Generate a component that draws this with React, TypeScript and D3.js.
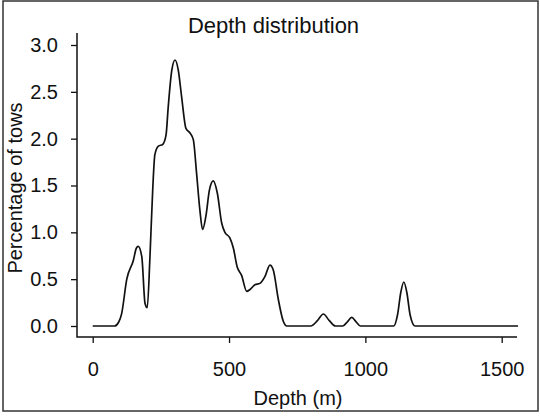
import React, { useEffect, useRef } from 'react'
import * as d3 from 'd3'

// depth (m) and percentage of tows
const depths = [0, 80, 95, 106, 125, 149, 160, 167, 180, 192, 200, 210, 220, 228, 241, 257, 269, 277, 290, 302, 314, 326, 342, 357, 369, 381, 393, 403, 415, 428, 442, 457, 473, 485, 503, 516, 530, 546, 565, 577, 595, 613, 632, 650, 662, 681, 699, 712, 800, 825, 846, 867, 890, 917, 934, 950, 966, 982, 1104, 1118, 1130, 1141, 1152, 1164, 1182, 1560]
const percents = [0, 0, 0.04, 0.13, 0.5, 0.7, 0.83, 0.85, 0.74, 0.24, 0.195, 0.74, 1.45, 1.83, 1.92, 1.94, 2.04, 2.34, 2.73, 2.84, 2.73, 2.45, 2.11, 2.06, 1.99, 1.63, 1.24, 1.03, 1.17, 1.45, 1.55, 1.42, 1.1, 1.0, 0.94, 0.83, 0.63, 0.54, 0.37, 0.39, 0.44, 0.455, 0.53, 0.65, 0.6, 0.28, 0.05, 0, 0, 0.06, 0.128, 0.06, 0, 0, 0.045, 0.093, 0.045, 0, 0, 0.12, 0.36, 0.47, 0.36, 0.12, 0, 0]
const xTicks = [0, 500, 1000, 1500]
const yTicks = [0, 0.5, 1, 1.5, 2, 2.5, 3]

const font = 'Liberation Sans, Arial, Helvetica, sans-serif'

export default function App() {
  const xAxisRef = useRef<SVGGElement>(null)
  const yAxisRef = useRef<SVGGElement>(null)

  const frame = { left: 77, right: 517, top: 33, bottom: 337 }
  const x = d3.scaleLinear().domain([0, 1500]).range([92.7, 501.7])
  const y = d3.scaleLinear().domain([0, 3]).range([326, 45])

  const points = depths.map((d, i) => ({ d, v: percents[i] }))
  const line = d3.line<{ d: number; v: number }>()
    .x(p => x(p.d))
    .y(p => y(p.v))
    .curve(d3.curveMonotoneX)

  useEffect(() => {
    const xAxis = d3.axisBottom(x).tickValues(xTicks).tickSize(6).tickPadding(19).tickFormat(d3.format('d'))
    const yAxis = d3.axisLeft(y).tickValues(yTicks).tickSize(6).tickPadding(13).tickFormat(d3.format('.1f'))
    const gx = d3.select(xAxisRef.current!).call(xAxis)
    const gy = d3.select(yAxisRef.current!).call(yAxis)
    for (const g of [gx, gy]) {
      g.select('.domain').remove()
      g.selectAll('line').attr('stroke', '#111').attr('stroke-width', 1.3)
      g.selectAll('text').attr('font-size', 20).attr('font-family', font).attr('fill', '#111')
    }
  }, [])

  return (
    <svg width={540} height={416} style={{ position: 'absolute', left: 0, top: 0, background: '#fff' }}>
      <rect x={3} y={1} width={535} height={410} fill='none' stroke='#333' strokeWidth={1.5} />
      <text x={273.5} y={33} textAnchor='middle' fontSize={22} fontFamily={font} fill='#111'>Depth distribution</text>
      <path d={`M${frame.left},${frame.top}V${frame.bottom}H${frame.right}`} fill='none' stroke='#111' strokeWidth={1.5} />
      <g ref={yAxisRef} transform={`translate(${frame.left},0)`} />
      <g ref={xAxisRef} transform={`translate(0,${frame.bottom})`} />
      <path d={line(points) ?? ''} fill='none' stroke='#111' strokeWidth={1.7} strokeLinejoin='round' />
      <text x={298} y={405} textAnchor='middle' fontSize={20} fontFamily={font} fill='#111'>Depth (m)</text>
      <text transform='translate(22,188) rotate(-90)' textAnchor='middle' fontSize={20} fontFamily={font} fill='#111'>Percentage of tows</text>
    </svg>
  )
}
